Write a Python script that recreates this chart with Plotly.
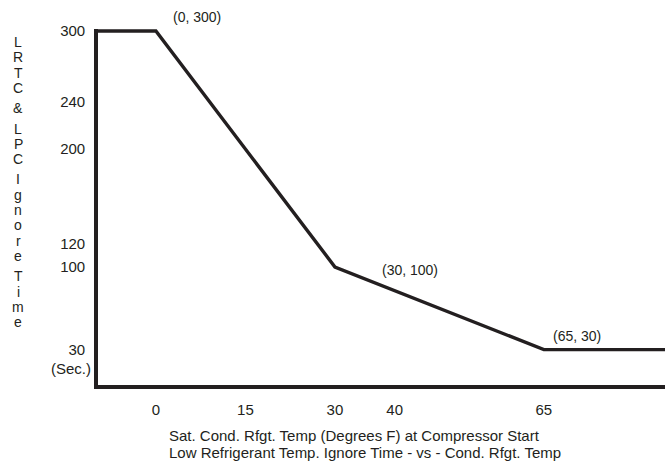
import plotly.graph_objects as go

# Low refrigerant temp ignore time curve
temps = [-10, 0, 30, 65, 90]
ignore_time = [300, 300, 100, 30, 30]
labelled_points = [(0, 300), (30, 100), (65, 30)]

x_ticks = [0, 15, 30, 40, 65]
y_ticks = [300, 240, 200, 120, 100, 30]
y_ticktext = ["300", "240", "200", "120", "100", "30"]
y_unit = "(Sec.)"

y_title = "LRTC & LPC Ignore Time"
x_title_1 = "Sat. Cond. Rfgt. Temp (Degrees F) at Compressor Start"
x_title_2 = "Low Refrigerant Temp. Ignore Time - vs - Cond. Rfgt. Temp"

ink = '#231f20'
font = 'Liberation Sans, Arial, sans-serif'

W, H = 665, 461
L, R, T, B = 98, 0, 29, 76
pw, ph = W - L - R, H - T - B


def paper_x(px):
    return (px - L) / pw


def paper_y(py):
    return (H - B - py) / ph


fig = go.Figure()
fig.add_trace(go.Scatter(
    x=temps, y=ignore_time, mode='lines',
    line=dict(color=ink, width=3.4), hoverinfo='skip', showlegend=False
))

# point labels, offset from their point like the original drawing
offsets = {(0, 300): (41, 14), (30, 100): (75, -3), (65, 30): (33, 14)}
annotations = []
for px_, py_ in labelled_points:
    dx, dy = offsets[(px_, py_)]
    annotations.append(dict(
        x=px_, y=py_, xref='x', yref='y', text=f"({px_}, {py_})", showarrow=False,
        xshift=dx, yshift=dy, font=dict(size=14, color=ink, family=font)
    ))

# unit under the lowest tick label
annotations.append(dict(
    x=0, y=y_ticks[-1], xref='paper', yref='y', text=y_unit, showarrow=False,
    xanchor='right', yanchor='middle', xshift=-5, yshift=-19,
    font=dict(size=15, color=ink, family=font)
))

# stacked vertical y title, one letter per row
yy = 42
for ch in y_title:
    if ch == ' ':
        yy += 5
        continue
    annotations.append(dict(
        x=paper_x(18), y=paper_y(yy), xref='paper', yref='paper', text=ch, showarrow=False,
        xanchor='center', yanchor='middle', borderpad=0,
        font=dict(size=14, color=ink, family=font)
    ))
    yy += 15.3

for txt, py in [(x_title_1, 435), (x_title_2, 452)]:
    annotations.append(dict(
        x=paper_x(167), y=paper_y(py), xref='paper', yref='paper', text=txt, showarrow=False,
        xanchor='left', yanchor='middle', font=dict(size=15, color=ink, family=font)
    ))

fig.update_layout(
    width=W, height=H,
    paper_bgcolor='white', plot_bgcolor='white',
    font=dict(color=ink, family=font, size=15),
    margin=dict(l=L, r=R, t=T, b=B),
    xaxis=dict(range=[-9.7, 85.3], showgrid=False, zeroline=False,
               showline=True, linecolor=ink, linewidth=3.6,
               tickvals=x_ticks, ticks='', ticklabelstandoff=8,
               tickfont=dict(size=15, color=ink)),
    yaxis=dict(range=[0, 301.7], showgrid=False, zeroline=False,
               showline=True, linecolor=ink, linewidth=3.6,
               tickvals=y_ticks, ticktext=y_ticktext, ticks='', ticklabelstandoff=6,
               tickfont=dict(size=15, color=ink)),
    annotations=annotations,
)

fig.write_html("out.html", config={'displayModeBar': False},
               post_script="document.body.style.margin='0';")
